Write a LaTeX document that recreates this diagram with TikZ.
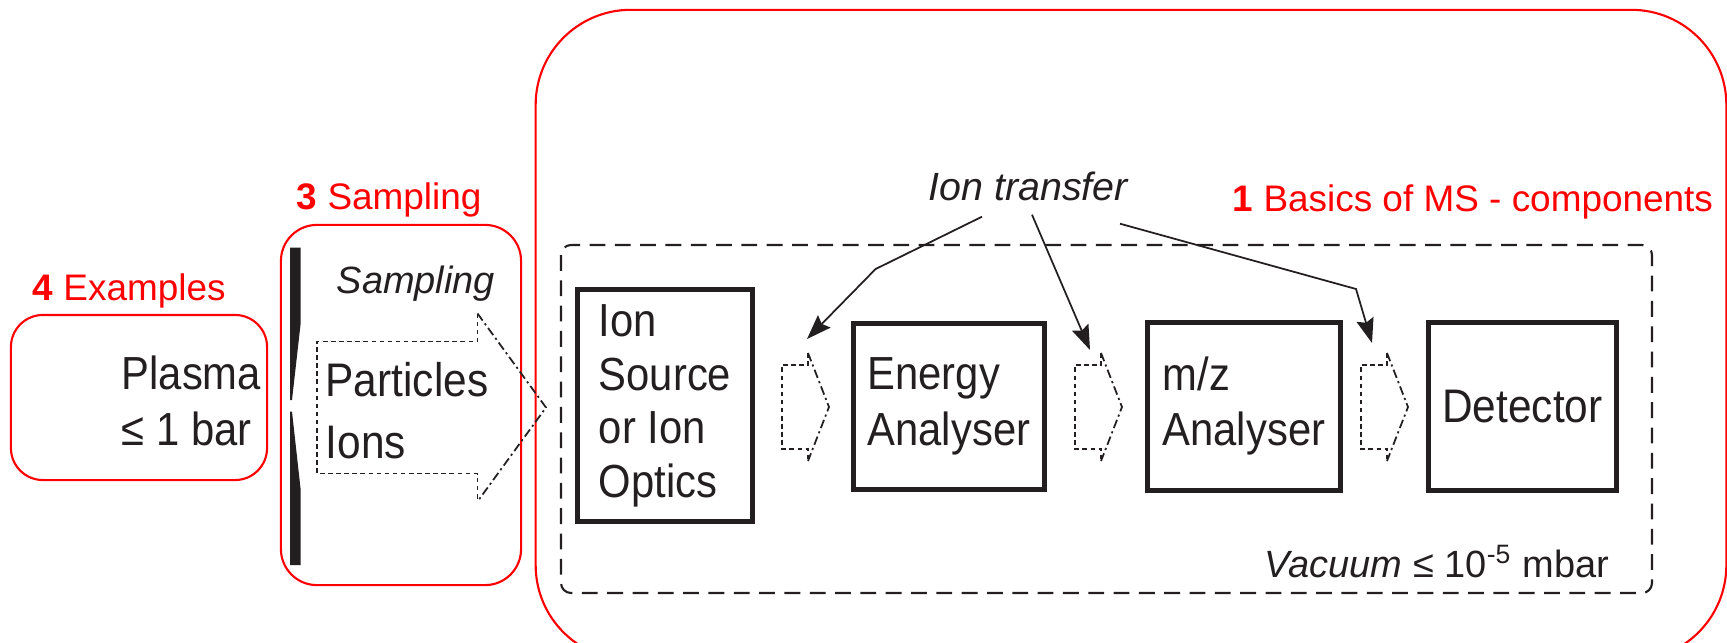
\documentclass[tikz,border=0pt]{standalone}
\usepackage{fontspec}
\setmainfont{Liberation Sans}
\newfontfamily\narrowsf{Liberation Sans}[FakeStretch=0.9]
\usetikzlibrary{arrows.meta,calc}
\definecolor{ink}{RGB}{35,31,32}

\tikzset{
    % dotted block arrow: shaft / half body / half head / head length
    pics/flowarrow/.style args={#1/#2/#3/#4}{code={
        \draw[ink, line width=0.5pt, dash pattern=on 1.3pt off 1pt] (#1,-#3) -- (#1,-#2) -- (0,-#2) -- (0,#2) -- (#1,#2) -- (#1,#3);
        \draw[ink, line width=0.5pt, dash pattern=on 2.5pt off 1pt on 0.6pt off 1pt] (#1,-#3) -- ({#1+#4},0) -- (#1,#3);
        \coordinate (-top) at (#1,-#3);
    }}
}

\begin{document}
\begin{tikzpicture}[x=0.01cm, y=-0.01cm,
    redbox/.style={draw=red, line width=0.6pt, inner sep=0},
    redlabel/.style={red, anchor=base west, inner sep=0, font=\fontsize{10.5}{12}\selectfont},
    bigtext/.style={text=ink, anchor=west, align=left, inner sep=0},
    smalltext/.style={text=ink, anchor=base west, inner sep=0, font=\fontsize{10.8}{13}\selectfont},
    compbox/.style={draw=ink, line width=1.42pt, text=ink, align=left, inner sep=0},
    pointer/.style={ink, line width=0.5pt, -{Stealth[length=7pt, width=5pt, inset=1pt]}}
]
\useasboundingbox (0,0) rectangle (1727,642);
\clip (0,0) rectangle (1727,642);

% red frames
\node[redbox, rounded corners=0.95cm, minimum width=11.9cm, minimum height=6.5cm] (mainframe) at (1131,335) {};
\node[redbox, rounded corners=0.36cm, minimum width=2.4cm, minimum height=3.6cm] (samplingbox) at (401,405) {};
\node[redbox, rounded corners=0.32cm, minimum width=2.56cm, minimum height=1.65cm] (examples) at (139,397.5) {};

\node[redlabel] (lab4) at (32,300) {\textbf{4} Examples};
\node[redlabel] (lab3) at (296,209) {\textbf{3} Sampling};
\node[redlabel] (lab1) at (1232,211.7) {\textbf{1} Basics of MS - components};

% plasma side
\node[bigtext, font=\narrowsf\fontsize{13.2}{16.1}\selectfont] (plasma) at (121,400.8) {Plasma\\≤ 1 bar};

% cone / orifice
\fill[ink] (290,247.7) -- (300.7,247.7) -- (300.7,323) -- (292,400) -- (290,400) -- cycle;
\fill[ink] (290,411.7) -- (292,411.7) -- (300.7,490) -- (300.7,565) -- (290,565) -- cycle;

\node[smalltext, font=\itshape\fontsize{10.8}{13}\selectfont] (samplingtext) at (336,293) {Sampling};
\pic (ta0) at (317,407.5) {flowarrow=160.5/66/94/68.5};
\node[bigtext, font=\narrowsf\fontsize{13.4}{17.5}\selectfont] (particles) at (325,410.9) {Particles\\Ions};

% vacuum part
\draw[ink, line width=0.6pt, dash pattern=on 4.5pt off 2.7pt, rounded corners=0.1cm] (561,245) rectangle (1652,593);

\node[compbox, font=\narrowsf\fontsize{13.2}{15.2}\selectfont, minimum width=1.75cm, minimum height=2.315cm] (source) at (665,405.75) {Ion\\Source\\or Ion\\Optics};
\node[compbox, font=\narrowsf\fontsize{13.2}{15.8}\selectfont, minimum width=1.912cm, minimum height=1.66cm] (energy) at (948.9,406.2) {Energy\\Analyser};
\node[compbox, font=\narrowsf\fontsize{13.2}{15.6}\selectfont, minimum width=1.928cm, minimum height=1.677cm] (mz) at (1243.9,406.3) {m/z\\Analyser};
\node[compbox, font=\narrowsf\fontsize{13.4}{15.6}\selectfont, minimum width=1.88cm, minimum height=1.677cm] (detector) at (1522.5,406.3) {Detector};

\pic (ta1) at (782,407) {flowarrow=26/42/54/21};
\pic (ta2) at (1075,407) {flowarrow=26/42/54/21};
\pic (ta3) at (1361,407) {flowarrow=26/42/54/21};

\node[smalltext, font=\itshape\fontsize{11.2}{13}\selectfont] (transfer) at (928,200.7) {Ion transfer};
\coordinate (t1) at ($(transfer.base west)+(54,16)$);
\coordinate (t2) at ($(transfer.base west)+(104,14)$);
\coordinate (t3) at ($(transfer.base west)+(192,23)$);
\draw[pointer] (t1) -- (875.6,269) -- ($(ta1-top)+(-1,-14)$);
\draw[pointer] (t2) -- ($(ta2-top)+(-11,-3)$);
\draw[pointer] (t3) -- (1356,289) -- ($(ta3-top)+(-15,-10)$);

\node[smalltext] (vacuum) at (1264,577.3) {{\itshape Vacuum} ≤ 10\textsuperscript{-5} mbar};
\end{tikzpicture}
\end{document}
